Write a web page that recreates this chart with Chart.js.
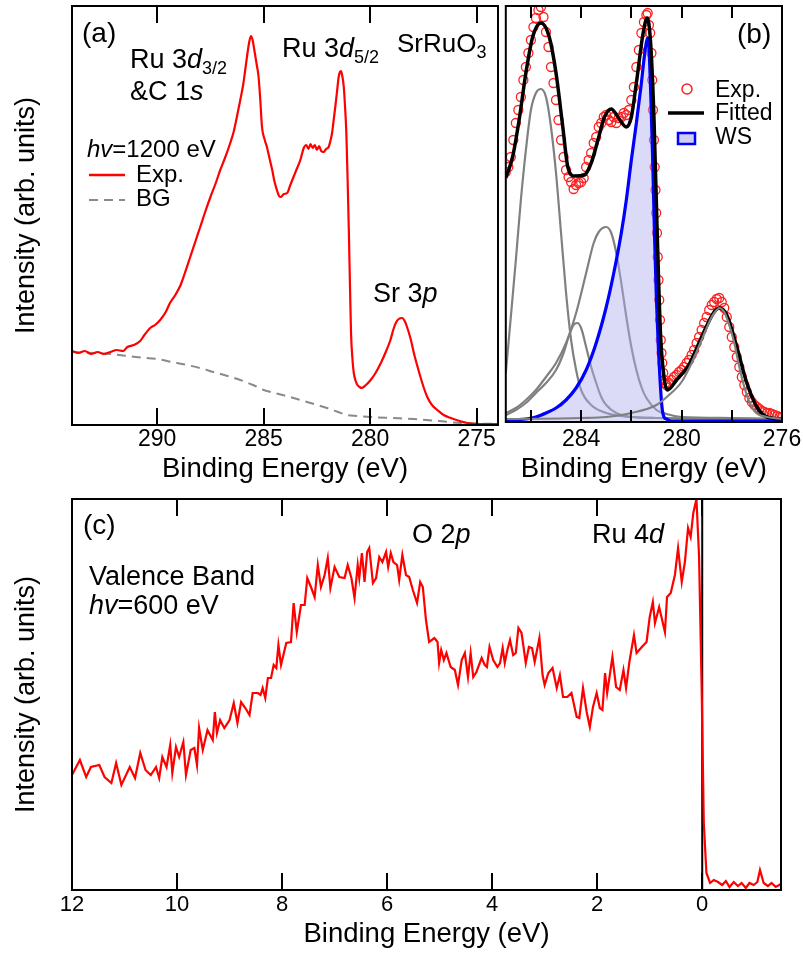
<!DOCTYPE html>
<html>
<head>
<meta charset="utf-8">
<script src="https://cdn.jsdelivr.net/npm/chart.js@4.4.0/dist/chart.umd.min.js"></script>
<style>
  body { margin: 0; background: #fff; width: 803px; height: 956px; position: relative; overflow: hidden; }
  .panel { position: absolute; }
</style>
</head>
<body>
<div class="panel" style="left:0;top:0;width:500px;height:490px"><canvas id="ca"></canvas></div>
<div class="panel" style="left:500px;top:0;width:303px;height:490px"><canvas id="cb"></canvas></div>
<div class="panel" style="left:0;top:490px;width:803px;height:466px"><canvas id="cc"></canvas></div>
<script>
// tick positions and labels
const aTicks = [275, 280, 285, 290];
const bTicks = [276, 278, 280, 282, 284, 286];
const bTickLabels = [276, 280, 284];
const cTicks = [0, 2, 4, 6, 8, 10, 12];

// (a) Ru 3d / C 1s core level, hv = 1200 eV
const aExpE = [294.0, 293.7, 293.4, 293.1, 292.8, 292.5, 292.2, 291.9, 291.6, 291.4,
  291.1, 290.8, 290.6, 290.33, 290.1, 289.86, 289.6, 289.4, 289.15, 288.9,
  288.7, 288.45, 288.2, 287.98, 287.75, 287.5, 287.25, 287.04, 286.8, 286.57,
  286.4, 286.26, 286.1, 285.95, 285.85, 285.76, 285.68, 285.6, 285.52, 285.44,
  285.34, 285.24, 285.16, 285.08, 284.95, 284.85, 284.72, 284.6, 284.5, 284.38,
  284.28, 284.19, 284.05, 283.9, 283.75, 283.6, 283.45, 283.28, 283.12, 283.0,
  282.9, 282.8, 282.7, 282.6, 282.5, 282.4, 282.3, 282.19, 282.07, 281.95,
  281.87, 281.79, 281.72, 281.64, 281.56, 281.48, 281.42, 281.37, 281.31, 281.24,
  281.18, 281.12, 281.06, 281.0, 280.95, 280.9, 280.84, 280.77, 280.68, 280.6,
  280.5, 280.4, 280.2, 279.98, 279.75, 279.5, 279.25, 279.05, 278.92, 278.8,
  278.66, 278.5, 278.38, 278.27, 278.1, 277.95, 277.8, 277.64, 277.48, 277.32,
  277.1, 276.85, 276.55, 276.22, 275.8, 275.44, 274.8, 274.0];
const aExpI = [74, 72, 74, 71, 73, 71, 73, 75, 74, 78,
  80, 84, 90, 97, 100, 105, 113, 122, 130, 140,
  152, 168, 184, 198, 213, 228, 242, 255, 268, 282,
  294, 308, 325, 342, 358, 372, 383, 389, 385, 375,
  362, 348, 325, 298, 285, 278, 266, 255, 244, 235,
  229, 228, 231, 232, 240, 248, 256, 265, 277, 280,
  276, 281, 277, 280, 275, 279, 274, 273, 276, 278,
  284, 292, 304, 318, 333, 348, 353, 354, 349, 338,
  318, 292, 245, 192, 140, 92, 68, 52, 44, 40,
  38, 37, 40, 45, 52, 62, 74, 85, 95, 102,
  106, 107, 104, 98, 86, 72, 60, 48, 37, 28,
  20, 15, 10, 7, 4, 2, 1, 1];
const aBgE = [294, 292.2, 291, 290, 289.3, 288.6, 288, 287.36, 286.7, 286.1, 285.5, 285.0, 284.3,
  283.6, 282.8, 282.03, 281.5, 281.1, 280.6, 280.0, 279, 277.95, 276.8, 275.75, 274];
const aBgI = [73, 71, 68, 66, 63, 60, 57, 53, 49, 45, 40, 35, 31,
  27, 22, 17, 13, 10, 9, 8, 7, 6, 4, 2, 1];

// (b) fit of the Ru 3d / Sr 3p region
const bExpE = [287.0, 286.9, 286.8, 286.7, 286.6, 286.5, 286.4, 286.3, 286.2, 286.1,
  286.0, 285.9, 285.8, 285.7, 285.6, 285.5, 285.4, 285.3, 285.2, 285.1,
  285.0, 284.9, 284.8, 284.7, 284.6, 284.5, 284.4, 284.3, 284.2, 284.1,
  284.0, 283.9, 283.8, 283.7, 283.6, 283.5, 283.4, 283.3, 283.2, 283.1,
  283.0, 282.9, 282.8, 282.7, 282.6, 282.5, 282.4, 282.3, 282.2, 282.1,
  282.0, 281.9, 281.8, 281.7, 281.6, 281.5, 281.4, 281.35, 281.3, 281.25,
  281.2, 281.17, 281.14, 281.1, 281.07, 281.04, 281.01, 280.98, 280.95, 280.92,
  280.89, 280.86, 280.83, 280.8, 280.77, 280.73, 280.7, 280.65, 280.6, 280.5,
  280.4, 280.3, 280.2, 280.1, 280.0, 279.9, 279.8, 279.7, 279.6, 279.5,
  279.4, 279.3, 279.2, 279.1, 279.0, 278.9, 278.8, 278.7, 278.6, 278.5,
  278.4, 278.3, 278.2, 278.1, 278.0, 277.9, 277.8, 277.7, 277.6, 277.5,
  277.4, 277.3, 277.2, 277.1, 277.0, 276.9, 276.8, 276.7, 276.6, 276.5,
  276.4, 276.3, 276.2, 276.1, 276.0];
const bExpI = [250, 255, 265, 282, 299, 312, 325, 342, 355, 369,
  382, 395, 404, 412, 415, 405, 390, 375, 355, 339,
  322, 302, 282, 265, 252, 245, 240, 233, 237, 239,
  240, 244, 255, 262, 269, 279, 285, 295, 299, 305,
  307, 302, 300, 305, 299, 304, 305, 309, 307, 312,
  322, 335, 355, 372, 389, 400, 407, 409, 397, 389,
  369, 342, 312, 282, 255, 232, 209, 189, 165, 142,
  122, 102, 82, 69, 59, 49, 42, 39, 37, 39,
  42, 45, 47, 50, 52, 55, 59, 62, 67, 72,
  79, 85, 92, 99, 105, 112, 117, 120, 123, 124,
  120, 114, 105, 95, 85, 75, 65, 55, 45, 37,
  30, 24, 20, 17, 15, 13, 11, 10, 9, 9,
  8, 7, 6, 5, 5];
const fitE = [287.0, 286.73, 286.47, 286.2, 285.93, 285.6, 285.27, 285.0, 284.73, 284.53,
  284.27, 283.87, 283.6, 283.33, 283.07, 282.8, 282.53, 282.2, 282.0, 281.8,
  281.53, 281.37, 281.24, 281.1, 280.97, 280.84, 280.7, 280.57, 280.2, 279.67,
  279.13, 278.73, 278.5, 278.2, 277.8, 277.4, 277.0, 276.6, 276.0];
const fitI = [244, 265, 302, 349, 385, 399, 385, 349, 295, 255,
  246, 247, 259, 282, 305, 313, 305, 295, 305, 339,
  389, 404, 382, 305, 189, 89, 45, 32, 42, 59,
  89, 109, 114, 107, 75, 39, 15, 5, 3];
const c1E = [287.0, 286.8, 286.6, 286.4, 286.2, 286.0, 285.8, 285.6, 285.4, 285.2, 285.0,
  284.8, 284.6, 284.4, 284.2, 284.0, 283.6, 283.0, 282.0, 281.0, 278.0, 276.0];
const c1I = [49, 105, 162, 222, 272, 312, 329, 333, 325, 295, 249,
  189, 129, 82, 52, 32, 17, 9, 5, 4, 3, 3];
const c2E = [287.0, 286.6, 286.2, 285.8, 285.4, 285.0, 284.7, 284.5, 284.3, 284.15,
  284.0, 283.8, 283.6, 283.4, 283.2, 283.0, 282.6, 282.0, 281.0, 276.0];
const c2I = [7, 12, 19, 29, 39, 52, 69, 85, 97, 99,
  94, 75, 55, 39, 25, 17, 9, 5, 4, 3];
const c3E = [287.0, 286.6, 286.2, 285.8, 285.4, 285.0, 284.6, 284.2, 283.8, 283.5, 283.3, 283.0,
  282.8, 282.6, 282.4, 282.2, 282.0, 281.8, 281.6, 281.4, 281.0, 280.6, 280.0, 278.0, 276.0];
const c3I = [9, 14, 22, 32, 45, 59, 79, 109, 149, 179, 190, 195,
  189, 169, 139, 105, 75, 52, 35, 24, 12, 8, 5, 4, 3];
const srE = [287.0, 284.0, 283.0, 282.0, 281.0, 280.5, 280.0, 279.6, 279.2, 279.0, 278.8, 278.6,
  278.5, 278.3, 278.1, 277.9, 277.7, 277.5, 277.3, 277.1, 276.9, 276.6, 276.0];
const srI = [3, 4, 5, 9, 17, 27, 40, 59, 82, 94, 105, 112,
  114, 110, 97, 79, 55, 35, 20, 11, 7, 5, 3];
const wsE = [287.0, 286.6, 286.2, 285.8, 285.4, 285.0, 284.6, 284.2, 283.8, 283.4, 283.0,
  282.7, 282.4, 282.2, 282.0, 281.8, 281.6, 281.5, 281.4, 281.35, 281.3,
  281.22, 281.15, 281.08, 281.0, 280.92, 280.85, 280.78, 280.7, 280.6, 280.4, 276.0];
const wsI = [1, 2, 3, 5, 9, 14, 22, 34, 52, 79, 115,
  149, 189, 222, 262, 299, 339, 362, 380, 384, 375,
  322, 262, 189, 122, 72, 39, 15, 5, 3, 1, 1];

// (c) valence band, hv = 600 eV
const vbE = [12.0, 11.85, 11.73, 11.64, 11.48, 11.38, 11.25, 11.16, 11.06, 10.9,
  10.8, 10.7, 10.6, 10.5, 10.4, 10.34, 10.28, 10.2, 10.13, 10.09,
  10.02, 9.96, 9.88, 9.83, 9.74, 9.67, 9.62, 9.58, 9.51, 9.42,
  9.32, 9.28, 9.24, 9.18, 9.1, 9.0, 8.92, 8.85, 8.78, 8.7,
  8.62, 8.56, 8.46, 8.41, 8.37, 8.32, 8.27, 8.21, 8.16, 8.11,
  8.07, 8.02, 7.92, 7.83, 7.78, 7.72, 7.64, 7.57, 7.52, 7.45,
  7.38, 7.32, 7.26, 7.19, 7.13, 7.08, 7.0, 6.91, 6.81, 6.75,
  6.68, 6.62, 6.56, 6.53, 6.48, 6.43, 6.38, 6.34, 6.27, 6.21,
  6.15, 6.09, 6.02, 5.98, 5.93, 5.88, 5.81, 5.77, 5.71, 5.64,
  5.58, 5.51, 5.43, 5.37, 5.32, 5.26, 5.2, 5.1, 5.04, 5.01,
  4.97, 4.92, 4.87, 4.79, 4.71, 4.65, 4.58, 4.52, 4.46, 4.41,
  4.36, 4.3, 4.2, 4.14, 4.1, 4.05, 3.98, 3.9, 3.85, 3.8,
  3.76, 3.71, 3.66, 3.6, 3.55, 3.5, 3.44, 3.36, 3.3, 3.24,
  3.19, 3.1, 3.04, 3.0, 2.93, 2.85, 2.77, 2.71, 2.65, 2.57,
  2.49, 2.39, 2.34, 2.27, 2.2, 2.14, 2.08, 2.01, 1.95, 1.9,
  1.85, 1.81, 1.71, 1.64, 1.57, 1.5, 1.45, 1.39, 1.3, 1.25,
  1.15, 1.06, 1.0, 0.94, 0.9, 0.82, 0.71, 0.67, 0.6, 0.52,
  0.46, 0.39, 0.33, 0.27, 0.22, 0.17, 0.11, 0.06, 0.01, -0.03,
  -0.08, -0.15, -0.22, -0.3, -0.38, -0.45, -0.52, -0.6, -0.68, -0.75,
  -0.83, -0.9, -0.98, -1.05, -1.1, -1.17, -1.25, -1.32, -1.4, -1.5];
const vbI = [115, 130, 113, 123, 125, 113, 107, 127, 105, 123,
  112, 137, 120, 115, 123, 112, 133, 123, 145, 117,
  143, 133, 148, 115, 140, 142, 125, 162, 140, 160,
  150, 178, 157, 170, 162, 170, 187, 167, 188, 182,
  175, 197, 197, 195, 202, 192, 212, 212, 225, 222,
  245, 225, 247, 248, 287, 258, 285, 285, 312, 303,
  293, 325, 303, 315, 332, 302, 323, 313, 312, 325,
  312, 292, 325, 312, 337, 308, 338, 342, 307, 312,
  333, 328, 338, 323, 337, 328, 325, 310, 335, 315,
  313, 300, 287, 308, 303, 270, 248, 252, 248, 227,
  240, 230, 237, 223, 220, 205, 230, 237, 213, 237,
  213, 218, 232, 225, 223, 243, 230, 223, 227, 242,
  227, 240, 250, 235, 237, 262, 257, 227, 243, 242,
  228, 252, 215, 205, 217, 222, 202, 215, 193, 193,
  197, 173, 172, 202, 178, 163, 183, 197, 182, 180,
  217, 197, 233, 203, 200, 220, 202, 227, 255, 237,
  243, 248, 273, 288, 267, 283, 258, 293, 297, 315,
  342, 308, 328, 362, 353, 377, 391, 333, 200, 67,
  17, 7, 10, 8, 5, 9, 3, 8, 4, 7,
  2, 7, 5, 8, 20, 7, 4, 7, 3, 6];

const FONT = '"Liberation Sans", Arial, Helvetica, sans-serif';
Chart.defaults.font.family = FONT;
Chart.defaults.color = '#000';

const xy = (es, is) => es.map((e, i) => ({ x: e, y: is[i] }));

// text with italic / subscript pieces
function put(ctx, x, y, parts, size) {
  let cx = x;
  ctx.fillStyle = '#000';
  ctx.textAlign = 'left';
  ctx.textBaseline = 'alphabetic';
  for (const p of parts) {
    const [t, k] = typeof p === 'string' ? [p, ''] : p;
    const sz = k === 'sub' ? Math.round(size * 0.68) : size;
    ctx.font = (k === 'i' ? 'italic ' : '') + sz + 'px ' + FONT;
    ctx.fillText(t, cx, y + (k === 'sub' ? size * 0.22 : 0));
    cx += ctx.measureText(t).width;
  }
}

function seg(ctx, x1, x2, y, color, w, dash) {
  ctx.save();
  ctx.strokeStyle = color;
  ctx.lineWidth = w;
  ctx.setLineDash(dash || []);
  ctx.beginPath();
  ctx.moveTo(x1, y);
  ctx.lineTo(x2, y);
  ctx.stroke();
  ctx.restore();
}

// box round the plot plus inward ticks on top and bottom
function frameTicks(len) {
  return {
    id: 'frameTicks',
    afterDatasetsDraw(chart) {
      const { ctx, chartArea: a, scales: { x } } = chart;
      ctx.save();
      ctx.strokeStyle = '#000';
      ctx.lineWidth = 2;
      ctx.strokeRect(a.left, a.top, a.right - a.left, a.bottom - a.top);
      ctx.beginPath();
      x.ticks.forEach(t => {
        const px = Math.round(x.getPixelForValue(t.value));
        ctx.moveTo(px, a.top);
        ctx.lineTo(px, a.top + len);
        ctx.moveTo(px, a.bottom);
        ctx.lineTo(px, a.bottom - len);
      });
      ctx.stroke();
      ctx.restore();
    }
  };
}

function notes(draw, dx, dy) {
  return {
    id: 'notes',
    afterDraw(chart) {
      const ctx = chart.ctx;
      ctx.save();
      ctx.translate(-dx, -dy);
      draw(ctx);
      ctx.restore();
    }
  };
}

function opts(o) {
  const ticks = { padding: o.tp, maxRotation: 0, autoSkip: false, font: { size: o.tf }, color: '#000' };
  if (o.label) ticks.callback = o.label;
  return {
    responsive: true,
    maintainAspectRatio: false,
    animation: false,
    layout: { padding: o.pad },
    plugins: { legend: { display: false }, tooltip: { enabled: false } },
    elements: { point: { radius: 0 } },
    scales: {
      x: {
        type: 'linear', reverse: true, min: o.min, max: o.max,
        grid: { display: false, drawTicks: false }, border: { display: false },
        ticks: ticks,
        afterBuildTicks: s => { s.ticks = o.ticks.map(v => ({ value: v })); },
        title: { display: true, text: 'Binding Energy (eV)', font: { size: 27.5 }, color: '#000',
          padding: { top: 0, bottom: o.tb } },
        afterFit: s => { s.height = o.xh; }
      },
      y: {
        display: o.ytitle, min: 0, max: o.ymax,
        grid: { display: false, drawTicks: false }, border: { display: false },
        ticks: { display: false },
        title: { display: true, text: 'Intensity (arb. units)', font: { size: 27 }, color: '#000',
          padding: { top: 10.8, bottom: 0 } },
        afterFit: s => { s.width = o.ytitle ? 72 : 0; }
      }
    }
  };
}

const drawA = ctx => {
  put(ctx, 82, 42, ['(a)'], 28);
  put(ctx, 130, 68, ['Ru 3', ['d', 'i'], ['3/2', 'sub']], 27);
  put(ctx, 130, 100, ['&C 1', ['s', 'i']], 27);
  put(ctx, 282, 57, ['Ru 3', ['d', 'i'], ['5/2', 'sub']], 27);
  put(ctx, 397, 52, ['SrRuO', ['3', 'sub']], 26);
  put(ctx, 373, 302, ['Sr 3', ['p', 'i']], 27);
  put(ctx, 87, 157, [['hv', 'i'], '=1200 eV'], 24);
  seg(ctx, 89, 125, 175, '#ff0000', 2.5);
  put(ctx, 136, 182, ['Exp.'], 24);
  seg(ctx, 89, 125, 200, '#8a8a8a', 2, [9, 6]);
  put(ctx, 136, 206, ['BG'], 24);
};

const drawB = ctx => {
  put(ctx, 737, 43, ['(b)'], 28);
  ctx.save();
  ctx.strokeStyle = '#ff2020';
  ctx.lineWidth = 1.5;
  ctx.beginPath();
  ctx.arc(687, 89, 5, 0, Math.PI * 2);
  ctx.stroke();
  ctx.restore();
  put(ctx, 715, 97, ['Exp.'], 23);
  seg(ctx, 668, 704, 113, '#000', 3.5);
  put(ctx, 715, 120, ['Fitted'], 23);
  ctx.save();
  ctx.fillStyle = 'rgba(175,175,240,0.6)';
  ctx.strokeStyle = '#0000ff';
  ctx.lineWidth = 2.5;
  ctx.fillRect(678, 133, 17, 11);
  ctx.strokeRect(678, 133, 17, 11);
  ctx.restore();
  put(ctx, 715, 144, ['WS'], 23);
};

const drawC = ctx => {
  put(ctx, 83, 534, ['(c)'], 28);
  put(ctx, 89, 585, ['Valence Band'], 27);
  put(ctx, 89, 614, [['hv', 'i'], '=600 eV'], 27);
  put(ctx, 412, 543, ['O 2', ['p', 'i']], 27);
  put(ctx, 592, 543, ['Ru 4', ['d', 'i']], 27);
};

const smooth = { cubicInterpolationMode: 'monotone', pointRadius: 0 };

new Chart(document.getElementById('ca'), {
  type: 'line',
  data: {
    datasets: [
      { data: xy(aExpE, aExpI), borderColor: '#ff0000', borderWidth: 2.2, order: 1, ...smooth },
      { data: xy(aBgE, aBgI), borderColor: '#8a8a8a', borderWidth: 2, borderDash: [9, 6], order: 2, ...smooth }
    ]
  },
  options: opts({ min: 274, max: 294, ticks: aTicks, tp: 1.2, tf: 23, tb: 4.5, xh: 65, ymax: 419, ytitle: true,
    pad: { left: 0, right: 2, top: 6, bottom: 0 } }),
  plugins: [frameTicks(17), notes(drawA, 0, 0)]
});

const gray = { borderColor: '#808080', borderWidth: 2.2, order: 3, ...smooth };
new Chart(document.getElementById('cb'), {
  type: 'line',
  data: {
    datasets: [
      { data: xy(fitE, fitI), borderColor: '#000', borderWidth: 3.5, order: 1, ...smooth },
      { data: xy(srE, srI), ...gray, order: 0 },
      { data: xy(c1E, c1I), ...gray },
      { data: xy(c2E, c2I), ...gray },
      { data: xy(c3E, c3I), ...gray },
      { data: xy(wsE, wsI), borderColor: '#0000ff', borderWidth: 3.2, fill: 'origin',
        backgroundColor: 'rgba(175,175,240,0.45)', order: 2, ...smooth },
      { data: xy(bExpE, bExpI), showLine: false, pointRadius: 4.5, pointBorderWidth: 1.3,
        pointBorderColor: '#ff2020', pointBackgroundColor: 'rgba(0,0,0,0)', order: 5 }
    ]
  },
  options: opts({ min: 276, max: 287, ticks: bTicks, tp: 4.2, tf: 23, tb: 4.5, xh: 68, ymax: 416, ytitle: false,
    pad: { left: 5, right: 21, top: 6, bottom: 0 },
    label: v => bTickLabels.includes(v) ? String(v) : '' }),
  plugins: [frameTicks(12), notes(drawB, 500, 0)]
});

new Chart(document.getElementById('cc'), {
  type: 'line',
  data: {
    datasets: [
      { data: xy(vbE, vbI), borderColor: '#ff0000', borderWidth: 2.2, pointRadius: 0, tension: 0, order: 1 },
      { data: [{ x: 0, y: 0 }, { x: 0, y: 391 }], borderColor: '#000', borderWidth: 2, pointRadius: 0, order: 2 }
    ]
  },
  options: opts({ min: -1.5, max: 12, ticks: cTicks, tp: 2, tf: 22, tb: 5.5, xh: 66, ymax: 391, ytitle: true,
    pad: { left: 0, right: 22, top: 9, bottom: 0 } }),
  plugins: [frameTicks(17), notes(drawC, 0, 490)]
});
</script>
</body>
</html>
